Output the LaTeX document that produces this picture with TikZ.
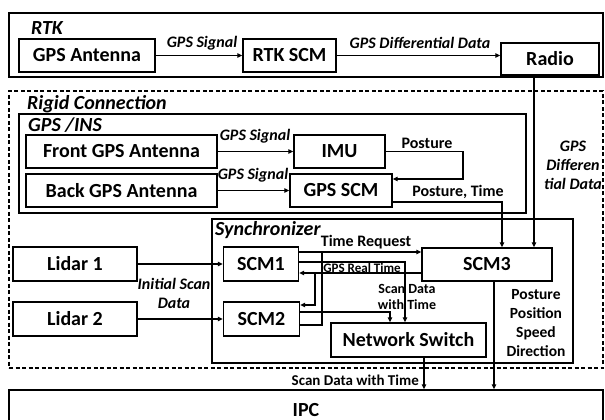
\documentclass[tikz,border=0pt]{standalone}
\usepackage{fontspec}
\setmainfont{Carlito}
\usetikzlibrary{arrows.meta}
\begin{document}
\begin{tikzpicture}[x=1pt,y=-1pt,
  box/.style={draw,line width=1.3pt,inner sep=0pt,font=\fontsize{20}{22}\selectfont\bfseries},
  grp/.style={draw,line width=1.3pt,inner sep=0pt},
  wire/.style={line width=1.2pt},
  arr/.style={wire,-{Triangle[length=5pt,width=4.5pt]}},
  lab/.style={font=\fontsize{16}{19}\selectfont\bfseries\itshape,inner sep=0pt,align=center},
  ulab/.style={font=\fontsize{16}{18.7}\selectfont\bfseries,inner sep=0pt,align=center},
  slab/.style={font=\fontsize{14}{16}\selectfont\bfseries,inner sep=0pt,align=center},
  title/.style={font=\fontsize{20}{22}\selectfont\bfseries\itshape,inner sep=0pt,anchor=west}]
\useasboundingbox (0,0) rectangle (605,420);
\clip (0,0) rectangle (605,420);

% group frames
\node[grp, minimum width=594, minimum height=64] (rtk) at (306,45) {};
\node[grp, dashed, dash pattern=on 4pt off 2.5pt, minimum width=594, minimum height=277] (rigid) at (306,229.5) {};
\node[grp, minimum width=507, minimum height=99] (ins) at (272.5,163.5) {};
\node[grp, minimum width=361, minimum height=144] (sync) at (392.5,291) {};

\node[title] (rtklab) at (31,28) {RTK};
\node[title] (rigidlab) at (27,104) {Rigid Connection};
\node[title] (inslab) at (28,125) {GPS /INS};
\node[title] (synclab) at (215,230) {Synchronizer};

% RTK
\node[box, minimum width=136, minimum height=33] (gpsant) at (87,55.5) {GPS Antenna};
\node[box, minimum width=93, minimum height=33] (rtkscm) at (289.5,55.5) {RTK SCM};
\node[box, minimum width=98, minimum height=32] (radio) at (550,59) {Radio};

% GPS/INS
\node[box, minimum width=191, minimum height=33] (front) at (121.5,151.5) {Front GPS Antenna};
\node[box, minimum width=191, minimum height=33] (back) at (121.5,190.5) {Back GPS Antenna};
\node[box, minimum width=91, minimum height=33] (imu) at (339.5,151.5) {IMU};
\node[box, minimum width=102, minimum height=33] (gpsscm) at (341,190.5) {GPS SCM};

% Lidars and synchronizer
\node[box, minimum width=124, minimum height=34] (lidar1) at (75,264) {Lidar 1};
\node[box, minimum width=124, minimum height=34] (lidar2) at (75,319) {Lidar 2};
\node[box, minimum width=75, minimum height=34] (scm1) at (261,264) {SCM1};
\node[box, minimum width=76, minimum height=34] (scm2) at (261.5,319) {SCM2};
\node[box, minimum width=130, minimum height=33] (scm3) at (487,264.5) {SCM3};
\node[box, minimum width=155, minimum height=34] (ns) at (408.5,340) {Network Switch};

% IPC
\node[box, minimum width=594, minimum height=40] (ipc) at (306,410) {IPC};

% RTK wires
\draw[arr] (gpsant.east) -- (rtkscm.west);
\node[lab] (l1) at (202,43) {GPS Signal};
\draw[arr] (rtkscm.east) -- (rtkscm.east -| radio.west);
\node[lab] (l2) at (420,43) {GPS Differential Data};

\coordinate (rx) at (534,0);
\draw[arr] (rx |- radio.south) -- (rx |- scm3.north);
\node[lab] (l3) at (573,165) {GPS\\Differen\\tial Data};

% GPS/INS wires
\draw[arr] (front.east) -- (front.east -| imu.west);
\node[lab] (l4) at (255,136) {GPS Signal};
\draw[arr] (back.east) -- (back.east -| gpsscm.west);
\node[lab] (l5) at (253,175) {GPS Signal};

\coordinate (plx) at (463,179);
\draw[arr] (imu.east) -- (imu.east -| plx) -- (plx) -- (plx -| gpsscm.east);
\node[ulab] (l6) at (427,143) {Posture};

\coordinate (ptx) at (502,202);
\draw[arr] (gpsscm.east |- ptx) -- (ptx) -- (ptx |- scm3.north);
\node[ulab] (l7) at (458,192) {Posture, Time};

% Lidar wires
\draw[arr] (lidar1.east) -- (scm1.west);
\draw[arr] (lidar2.east) -- (scm2.west);
\node[lab] (l8) at (174,293) {Initial Scan\\Data};

% synchronizer wires
\coordinate (tr) at (0,252);
\draw[arr] (scm1.east |- tr) -- (scm3.west |- tr);
\coordinate (trj) at (322,325);
\draw[wire] (scm2.east |- trj) -- (trj) -- (trj |- tr);
\node[ulab] (l9) at (366,242) {Time Request};

\coordinate (sd1) at (405,262);
\draw[arr] (scm1.east |- sd1) -- (sd1) -- (sd1 |- ns.north);
\coordinate (sd2) at (390,312);
\draw[arr] (scm2.east |- sd2) -- (sd2) -- (sd2 |- ns.north);

\coordinate (gr) at (0,273);
\draw[arr] (scm3.west |- gr) -- (scm1.east |- gr);
\coordinate (grb) at (315,273);
\coordinate (grc) at (315,305);
\draw[arr] (grb) -- (grc) -- (grc -| scm2.east);
\node[font=\fontsize{13}{15}\selectfont\bfseries, inner sep=0pt] (l10) at (362,267.5) {GPS Real Time};
\node[slab] (l11) at (407,297) {Scan Data\\with Time};

% outputs to IPC
\coordinate (s3x) at (494,0);
\draw[arr] (s3x |- scm3.south) -- (s3x |- ipc.north);
\node[font=\fontsize{15.5}{18.7}\selectfont\bfseries, inner sep=0pt, align=center] (l12) at (536,323) {Posture\\Position\\Speed\\Direction};
\coordinate (nsx) at (424,0);
\draw[arr] (nsx |- ns.south) -- (nsx |- ipc.north);
\node[ulab, anchor=east, font=\fontsize{15}{18}\selectfont\bfseries] (l13) at (419,380) {Scan Data with Time};
\end{tikzpicture}
\end{document}
